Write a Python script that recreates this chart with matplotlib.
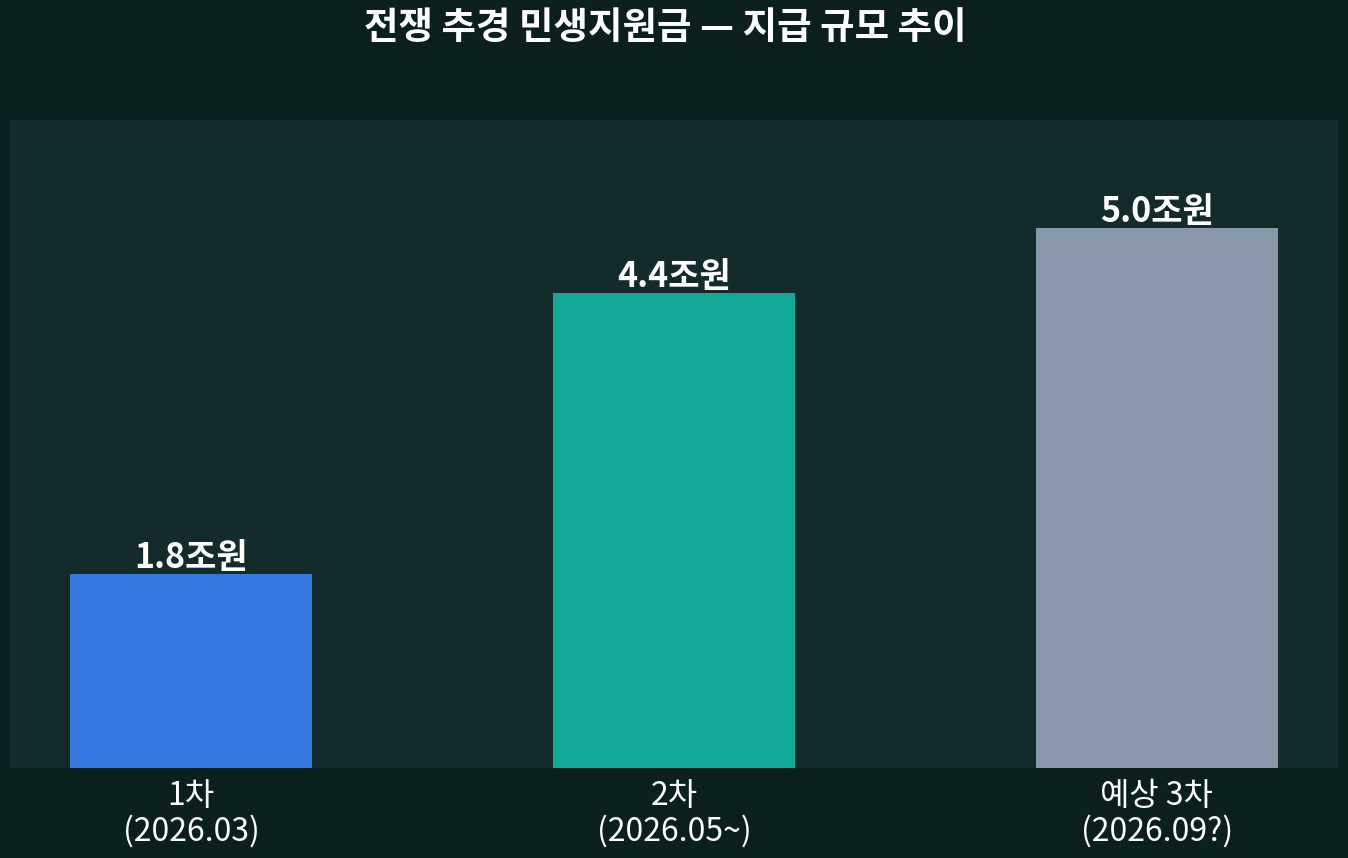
import numpy as np
import matplotlib.pyplot as plt

plt.rcParams['font.family'] = ['Noto Sans CJK KR', 'DejaVu Sans']

# 지급 차수별 규모 (조원)
rounds = ['1차\n(2026.03)', '2차\n(2026.05~)', '예상 3차\n(2026.09?)']
amounts = [1.8, 4.4, 5.0]
value_labels = ['1.8조원', '4.4조원', '5.0조원']
colors = ['#3578e0', '#12a998', '#8898aa']

fig = plt.figure(figsize=(13.48, 8.58), dpi=100, facecolor='#0c1f1f')
ax = fig.add_axes([10/1348, 90/858, 1328/1348, 648/858])
ax.set_facecolor('#142b2b')

x = np.arange(len(rounds))
bars = ax.bar(x, amounts, width=0.5, color=colors)

for b, lab in zip(bars, value_labels):
    ax.text(b.get_x() + b.get_width()/2, b.get_height() - 0.01, lab,
            ha='center', va='bottom', color='white', fontsize=24.5, fontweight='bold')

ax.set_xlim(-0.375, 2.375)
ax.set_ylim(0, 6)
ax.set_xticks(x)
ax.set_xticklabels(rounds, color='white', fontsize=23, linespacing=1.08)
ax.tick_params(axis='x', length=0, pad=9)
ax.set_yticks([])
for s in ax.spines.values():
    s.set_visible(False)

fig.text(665/1348, 1 - 28/858, '전쟁 추경 민생지원금 — 지급 규모 추이', ha='center', va='center',
         color='white', fontsize=27, fontweight='bold')

fig.savefig('out.png', dpi=100, facecolor=fig.get_facecolor())
